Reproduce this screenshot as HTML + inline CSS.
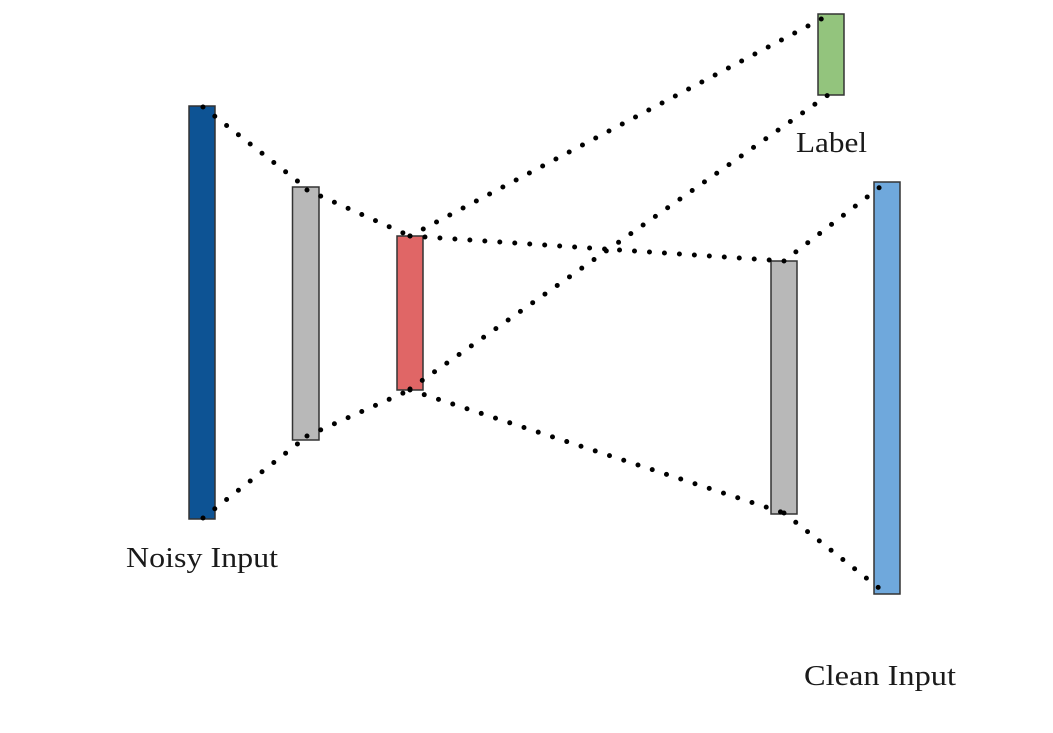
<!DOCTYPE html>
<html><head><meta charset="utf-8"><style>
html,body{margin:0;padding:0;background:#fff;}
svg{display:block;}
text{font-family:"Liberation Serif",serif;fill:#1a1a1a;}
</style></head><body>
<svg width="1053" height="733" viewBox="0 0 1053 733">
<g stroke="#333" stroke-width="1.5">
<rect x="189" y="106" width="26" height="413" fill="#0d5394"/>
<rect x="292.5" y="187" width="26.5" height="253" fill="#b8b8b8"/>
<rect x="397" y="236" width="26" height="154" fill="#e06666"/>
<rect x="818" y="14" width="26" height="81" fill="#93c47d"/>
<rect x="771" y="261" width="26" height="253" fill="#b8b8b8"/>
<rect x="874" y="182" width="26" height="412" fill="#6fa8dc"/>
</g>
<g stroke="#000" stroke-width="5" stroke-linecap="round" stroke-dasharray="0 15" fill="none">
<line x1="203" y1="107" x2="305" y2="187"/>
<line x1="307" y1="190" x2="410" y2="236"/>
<line x1="203" y1="518" x2="305" y2="438"/>
<line x1="307" y1="436" x2="410" y2="390"/>
<line x1="410" y1="236" x2="825" y2="17"/>
<line x1="410" y1="389" x2="828" y2="95"/>
<line x1="410" y1="236" x2="784" y2="261"/>
<line x1="410" y1="390" x2="784" y2="513"/>
<line x1="784" y1="261" x2="884" y2="184"/>
<line x1="784" y1="513" x2="884" y2="592"/>
</g>
<text x="126" y="567" font-size="28" textLength="152" lengthAdjust="spacingAndGlyphs">Noisy Input</text>
<text x="796" y="152" font-size="28" textLength="71" lengthAdjust="spacingAndGlyphs">Label</text>
<text x="804" y="685" font-size="28" textLength="152" lengthAdjust="spacingAndGlyphs">Clean Input</text>
</svg>
</body></html>
